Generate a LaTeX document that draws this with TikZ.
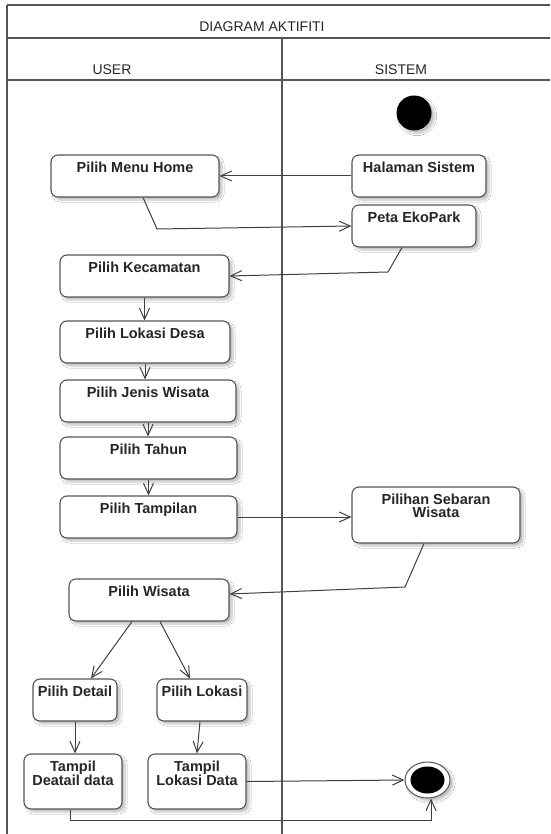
\documentclass[tikz,border=0pt]{standalone}
\usepackage{fontspec}
\setmainfont{Liberation Sans}
\usetikzlibrary{arrows.meta,shapes.geometric,shadows.blur}
\definecolor{linec}{HTML}{404040}
\definecolor{framec}{HTML}{555555}
\definecolor{textc}{HTML}{262626}
\tikzset{
  act/.style={draw=framec, line width=1.1pt, fill=white, rounded corners=7pt,
    rectangle, inner sep=0pt,
    blur shadow={shadow xshift=3pt, shadow yshift=-3pt, shadow blur steps=6, shadow opacity=25}},
  txt/.style={anchor=north, yshift=-7pt, inner sep=0pt, align=center, text=textc,
    font=\fontsize{14.5}{13.5}\selectfont\bfseries},
  arr/.style={draw=linec, line width=1pt, -{Straight Barb[length=11pt,width=10pt]}},
  frame/.style={draw=framec, line width=1.5pt},
  head/.style={anchor=base, inner sep=0pt, text=textc, font=\fontsize{14}{15}\selectfont}
}
\begin{document}
\begin{tikzpicture}[x=1pt, y=-1pt]
\useasboundingbox (0,0) rectangle (550,834);
\fill[white] (0,0) rectangle (550,834);
% frame
\draw[frame] (7,5) -- (550,5);
\draw[frame] (7,38) -- (550,38);
\draw[frame] (7,80) -- (550,80);
\draw[frame] (7,5) -- (7,834);
\draw[frame] (282,38) -- (282,834);
\node[head] (title) at (262,32) {DIAGRAM AKTIFITI};
\node[head] (user) at (112,75) {USER};
\node[head] (sistem) at (401,75) {SISTEM};
% start
\node[circle, fill=black, minimum size=35pt, inner sep=0pt,
  blur shadow={shadow xshift=3pt, shadow yshift=-3pt, shadow blur steps=6, shadow opacity=25}] (start) at (414,113) {};
% activities
\node[act, minimum width=168, minimum height=42, label={[txt]north:Pilih Menu Home}] (pmh) at (135,176) {};
\node[act, minimum width=134, minimum height=42, label={[txt]north:Halaman Sistem}] (hal) at (419,176) {};
\node[act, minimum width=124, minimum height=42, label={[txt]north:Peta EkoPark}] (peta) at (414,226) {};
\node[act, minimum width=169, minimum height=42, label={[txt]north:Pilih Kecamatan}] (kec) at (144.5,276) {};
\node[act, minimum width=170, minimum height=42, label={[txt]north:Pilih Lokasi Desa}] (desa) at (145,342) {};
\node[act, minimum width=176, minimum height=42, label={[txt]north:Pilih Jenis Wisata}] (jenis) at (148,401) {};
\node[act, minimum width=177, minimum height=42, label={[txt]north:Pilih Tahun}] (tahun) at (148.5,458) {};
\node[act, minimum width=177, minimum height=42, label={[txt]north:Pilih Tampilan}] (tampil) at (148.5,517) {};
\node[act, minimum width=168, minimum height=56, label={[txt]north:{Pilihan Sebaran\\Wisata}}] (sebaran) at (436,515) {};
\node[act, minimum width=160, minimum height=42, label={[txt]north:Pilih Wisata}] (wisata) at (149,600) {};
\node[act, minimum width=84, minimum height=42, label={[txt]north:Pilih Detail}] (detail) at (75,700) {};
\node[act, minimum width=90, minimum height=42, label={[txt]north:Pilih Lokasi}] (lokasi) at (202,700) {};
\node[act, minimum width=98, minimum height=55, label={[txt]north:{Tampil\\Deatail data}}] (tdetail) at (73,781.5) {};
\node[act, minimum width=98, minimum height=55, label={[txt]north:{Tampil\\Lokasi Data}}] (tlokasi) at (197,781.5) {};
% end
\node[ellipse, draw=framec, line width=1pt, fill=white, minimum width=45pt, minimum height=36pt, inner sep=0pt,
  blur shadow={shadow xshift=3pt, shadow yshift=-3pt, shadow blur steps=6, shadow opacity=25}] (end) at (427.5,780) {};
\node[ellipse, fill=black, minimum width=34pt, minimum height=27pt, inner sep=0pt] (endin) at (end.center) {};
% connectors
\draw[arr] (hal.west) -- (pmh.east);
\coordinate (b1) at (157,229);
\draw[arr] ([xshift=8pt]pmh.south) -- (b1) -- (peta.west);
\coordinate (b2) at (388,272);
\draw[arr] ([xshift=-12pt]peta.south) -- (b2) -- (kec.east);
\draw[arr] (kec.south) -- (kec.south |- desa.north);
\draw[arr] (desa.south) -- (desa.south |- jenis.north);
\draw[arr] (jenis.south) -- (jenis.south |- tahun.north);
\draw[arr] (tahun.south) -- (tahun.south |- tampil.north);
\draw[arr] (tampil.east) -- (tampil.east -| sebaran.west);
\coordinate (b3) at (405,587);
\draw[arr] ([xshift=-12pt]sebaran.south) -- (b3) -- ([yshift=6pt]wisata.east);
\draw[arr] ([xshift=-17pt]wisata.south) -- ([xshift=16pt]detail.north);
\draw[arr] ([xshift=11pt]wisata.south) -- ([xshift=-12pt]lokasi.north);
\draw[arr] (detail.south) -- (detail.south |- tdetail.north);
\draw[arr] ([xshift=-2pt]lokasi.south) -- (tlokasi.north);
\draw[arr] (tlokasi.east) -- (end.west);
\coordinate (b4) at (70,820);
\coordinate (b5) at (431,820);
\draw[arr] ([xshift=-3pt]tdetail.south) -- (b4) -- (b5) -- ([xshift=3.5pt]end.south);
\end{tikzpicture}
\end{document}
